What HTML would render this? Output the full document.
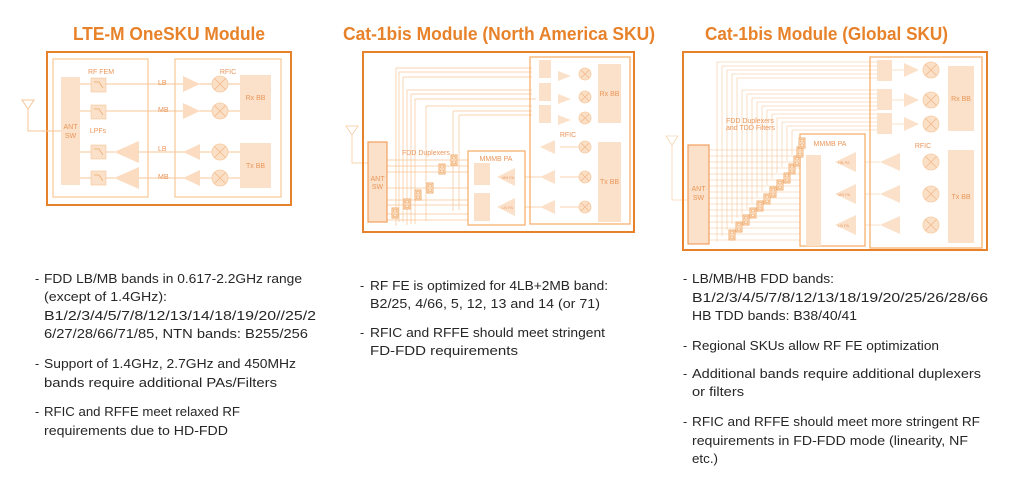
<!DOCTYPE html>
<html><head><meta charset="utf-8"><style>
html,body{margin:0;padding:0;background:#fff;}
svg{display:block;}
.t{font-family:"Liberation Sans",sans-serif;font-weight:bold;fill:#e8822a;font-size:18px;}
.b{font-family:"Liberation Sans",sans-serif;fill:#262626;font-size:12.5px;}
.s{font-family:"Liberation Sans",sans-serif;fill:#e9965a;font-size:7px;}
.xs{font-family:"Liberation Sans",sans-serif;fill:#eda070;font-size:4px;}
</style></head><body>
<svg width="1024" height="482" viewBox="0 0 1024 482" xmlns="http://www.w3.org/2000/svg">
<defs>
<g id="mix"><circle r="8" fill="#fbe0c8" stroke="#f6caa0" stroke-width="0.8"/><path d="M-5.5,-5.5L5.5,5.5M5.5,-5.5L-5.5,5.5" stroke="#f3b98a" stroke-width="0.8"/></g>
<g id="mixs"><circle r="6" fill="#fbe0c8" stroke="#f6caa0" stroke-width="0.8"/><path d="M-4,-4L4,4M4,-4L-4,4" stroke="#f3b98a" stroke-width="0.8"/></g>
<g id="dup"><rect x="0" y="0" width="6" height="10" fill="#fde9d6" stroke="#f0a868" stroke-width="0.9"/><rect x="1.5" y="1.5" width="3" height="2.5" fill="none" stroke="#f0a868" stroke-width="0.6"/><rect x="1.5" y="6" width="3" height="2.5" fill="none" stroke="#f0a868" stroke-width="0.6"/></g>
</defs>

<text class="t" x="73" y="40" textLength="192" lengthAdjust="spacingAndGlyphs">LTE-M OneSKU Module</text>
<text class="t" x="343" y="40" textLength="312" lengthAdjust="spacingAndGlyphs">Cat-1bis Module (North America SKU)</text>
<text class="t" x="705" y="40" textLength="243" lengthAdjust="spacingAndGlyphs">Cat-1bis Module (Global SKU)</text>

<!-- Panel 1 -->
<g fill="none" stroke="#f6c597" stroke-width="1">
<rect x="47" y="52" width="244" height="153" stroke="#e8822a" stroke-width="2"/>
<rect x="53" y="59" width="95" height="138" stroke="#f8c896" stroke-width="1.2"/>
<rect x="175" y="59" width="106" height="138" stroke="#f8c896" stroke-width="1.2"/>
<path d="M22,100h12l-6,9z M28,109v22h33"/>
<path d="M80,84h160 M80,111h160 M80,152h160 M80,178h160"/>
</g>
<rect x="61" y="77" width="19" height="108" fill="#fbe1c9"/>
<text class="s" x="70.5" y="129" text-anchor="middle">ANT</text><text class="s" x="70.5" y="138" text-anchor="middle">SW</text>
<text class="s" x="101" y="74" text-anchor="middle" font-size="8">RF FEM</text>
<text class="s" x="228" y="74" text-anchor="middle" font-size="8">RFIC</text>
<text class="s" x="98" y="133" text-anchor="middle">LPFs</text>
<g fill="#fbe1c9" stroke="#f6c597" stroke-width="0.6">
<rect x="91" y="78" width="15" height="14"/><rect x="91" y="105" width="15" height="14"/><rect x="91" y="145" width="15" height="14"/><rect x="91" y="171" width="15" height="14"/>
</g>
<path d="M94,82h5l4,6M94,109h5l4,6M94,149h5l4,6M94,175h5l4,6" stroke="#f0a868" stroke-width="0.7" fill="none"/>
<g fill="#fbdcc0"><path d="M114,152l25,-11v22z M114,178l25,-11v22z"/>
<path d="M183,76l17,8l-17,8z M183,103l17,8l-17,8z M183,152l17,-8v16z M183,178l17,-8v16z"/></g>
<use href="#mix" x="220" y="84"/><use href="#mix" x="220" y="111"/><use href="#mix" x="220" y="152"/><use href="#mix" x="220" y="178"/>
<rect x="240" y="75" width="31" height="45" fill="#fbe1c9"/><rect x="240" y="143" width="31" height="45" fill="#fbe1c9"/>
<text class="s" x="255.5" y="100" text-anchor="middle">Rx BB</text><text class="s" x="255.5" y="168" text-anchor="middle">Tx BB</text>
<g class="s" font-size="6"><text x="158" y="85">LB</text><text x="158" y="112">MB</text><text x="158" y="151">LB</text><text x="158" y="179">MB</text></g>

<!-- Panel 2 -->
<g fill="none" stroke="#f6c597" stroke-width="0.7">
<path d="M346,126h12l-6,9z M352,135v28h16"/>
<path d="M396,68h136 M399,72h133 M403,77h129 M407,90h125 M411,94h121 M415,99h121 M426,106h106 M453,111h79 M459,115h73"/>
<path d="M396,68v158 M399,72v150 M403,77v145 M407,90v135 M411,94v130 M415,99v125 M426,106v115 M453,111v100 M459,115v95"/>
<path d="M387,160h81 M387,166h81 M387,172h81 M387,188h81 M387,200h81 M387,205h81 M387,214h81 M387,220h81"/>
<path d="M525,177h20 M525,207h20 M560,147h25 M560,177h25 M560,207h25"/>
</g>
<g fill="none">
<rect x="363" y="52" width="271" height="180" stroke="#e8822a" stroke-width="2"/>
<rect x="530" y="57" width="100" height="167" stroke="#f6b070" stroke-width="1.3"/>
<rect x="468" y="151" width="57" height="74" stroke="#f6b070" stroke-width="1.3"/>
<rect x="368" y="142" width="19" height="80" stroke="#f2a060" stroke-width="1.2" fill="#fbe1c9"/>
</g>
<text class="s" x="377.5" y="181" text-anchor="middle">ANT</text><text class="s" x="377.5" y="189" text-anchor="middle">SW</text>
<text class="s" x="402" y="155" font-size="5">FDD Duplexers</text>
<text class="s" x="496" y="161" text-anchor="middle" font-size="7">MMMB PA</text>
<text class="s" x="568" y="137" text-anchor="middle" font-size="7">RFIC</text>
<use href="#dup" x="392" y="208"/><use href="#dup" x="404" y="199"/><use href="#dup" x="415" y="190"/><use href="#dup" x="427" y="183"/><use href="#dup" x="439" y="164"/><use href="#dup" x="451" y="155"/>
<g fill="#fbe1c9"><rect x="474" y="163" width="16" height="22"/><rect x="474" y="193" width="16" height="28"/>
<rect x="539" y="60" width="12" height="18"/><rect x="539" y="83" width="12" height="18"/><rect x="539" y="105" width="12" height="18"/>
<rect x="598" y="64" width="23" height="59"/><rect x="598" y="142" width="23" height="80"/>
<path d="M497,177l18,-9v18z M497,207l18,-9v18z M558,71l13,5l-13,5z M558,94l13,5l-13,5z M558,115l13,5l-13,5z M540,147l15,-7v14z M540,177l15,-7v14z M540,207l15,-7v14z"/></g>
<use href="#mixs" x="585" y="74"/><use href="#mixs" x="585" y="97"/><use href="#mixs" x="585" y="118"/><use href="#mixs" x="585" y="147"/><use href="#mixs" x="585" y="177"/><use href="#mixs" x="585" y="207"/>
<text class="s" x="609.5" y="96" text-anchor="middle" font-size="5">Rx BB</text><text class="s" x="609.5" y="184" text-anchor="middle" font-size="5">Tx BB</text>
<g class="xs"><text x="502" y="179">MB PA</text><text x="502" y="209">LB PA</text></g>

<!-- Panel 3 -->
<g fill="none" stroke="#f6c597" stroke-width="0.6">
<path d="M666,136h12l-6,9z M672,145v55h16"/>
<path d="M717,62h160 M722,66h155 M727,70h150 M732,74h145 M737,78h140 M742,90h135 M747,94h130 M752,98h125 M757,102h120 M762,106h115 M767,110h110 M772,114h105 M777,118h100 M782,122h95 M787,126h90 M792,130h85"/>
<path d="M717,62v180 M722,66v170 M727,70v160 M732,74v150 M737,78v140 M742,90v125 M747,94v115 M752,98v105 M757,102v95 M762,106v85 M767,110v75 M772,114v65 M777,118v55 M782,122v45 M787,126v35 M792,130v25"/>
<path d="M709,150h91 M709,156h91 M709,162h91 M709,168h91 M709,174h91 M709,180h91 M709,186h91 M709,192h91 M709,198h91 M709,204h91 M709,210h91 M709,216h91 M709,222h91 M709,228h91 M709,234h91 M709,240h91"/>
<path d="M865,162h15 M865,194h15 M865,225h15 M892,70h12 M892,100h12 M892,124h12"/>
</g>
<g fill="none">
<rect x="683" y="52" width="304" height="198" stroke="#e8822a" stroke-width="2"/>
<rect x="870" y="57" width="112" height="191" stroke="#f6b070" stroke-width="1.3"/>
<rect x="800" y="134" width="65" height="112" stroke="#f6b070" stroke-width="1.3"/>
<rect x="688" y="145" width="21" height="99" stroke="#f2a060" stroke-width="1.2" fill="#fbe1c9"/>
</g>
<text class="s" x="698.5" y="191" text-anchor="middle">ANT</text><text class="s" x="698.5" y="200" text-anchor="middle">SW</text>
<text class="s" x="726" y="123" font-size="5.5">FDD Duplexers</text><text class="s" x="726" y="130" font-size="5.5">and TDD Filters</text>
<text class="s" x="830" y="146" text-anchor="middle" font-size="7.5">MMMB PA</text>
<text class="s" x="923" y="148" text-anchor="middle" font-size="7.5">RFIC</text>
<use href="#dup" x="729" y="230"/><use href="#dup" x="736" y="222"/><use href="#dup" x="743" y="215"/><use href="#dup" x="750" y="208"/><use href="#dup" x="757" y="201"/><use href="#dup" x="764" y="194"/><use href="#dup" x="770" y="187"/><use href="#dup" x="777" y="180"/><use href="#dup" x="784" y="173"/><use href="#dup" x="789" y="164"/><use href="#dup" x="794" y="156"/><use href="#dup" x="797" y="147"/><use href="#dup" x="799" y="138"/>
<g fill="#fbe1c9">
<rect x="806" y="155" width="15" height="32"/><rect x="806" y="186" width="15" height="33"/><rect x="806" y="218" width="15" height="28"/>
<rect x="877" y="60" width="15" height="21"/><rect x="877" y="89" width="15" height="21"/><rect x="877" y="113" width="15" height="21"/>
<rect x="948" y="66" width="26" height="65"/><rect x="948" y="150" width="26" height="93"/>
<path d="M835,162l21,-10v20z M835,194l21,-10v20z M835,225l21,-10v20z M904,63l15,7l-15,7z M904,93l15,7l-15,7z M904,117l15,7l-15,7z M880,162l20,-9v18z M880,194l20,-9v18z M880,225l20,-9v18z"/></g>
<use href="#mix" x="931" y="70"/><use href="#mix" x="931" y="100"/><use href="#mix" x="931" y="124"/><use href="#mix" x="931" y="162"/><use href="#mix" x="931" y="194"/><use href="#mix" x="931" y="225"/>
<text class="s" x="961" y="101" text-anchor="middle" font-size="6">Rx BB</text><text class="s" x="961" y="199" text-anchor="middle" font-size="6">Tx BB</text>
<g class="xs"><text x="838" y="164">HB PA</text><text x="838" y="196">MB PA</text><text x="838" y="227">LB PA</text></g>

<!-- Bullet text -->
<g class="b">
<text x="35" y="283">-</text><text x="44" y="283" textLength="258" lengthAdjust="spacingAndGlyphs">FDD LB/MB bands in 0.617-2.2GHz range</text>
<text x="44" y="301" textLength="123" lengthAdjust="spacingAndGlyphs">(except of 1.4GHz):</text>
<text x="44" y="320" textLength="272" lengthAdjust="spacingAndGlyphs">B1/2/3/4/5/7/8/12/13/14/18/19/20//25/2</text>
<text x="44" y="338" textLength="264" lengthAdjust="spacingAndGlyphs">6/27/28/66/71/85, NTN bands: B255/256</text>
<text x="35" y="368">-</text><text x="44" y="368" textLength="252" lengthAdjust="spacingAndGlyphs">Support of 1.4GHz, 2.7GHz and 450MHz</text>
<text x="44" y="387" textLength="233" lengthAdjust="spacingAndGlyphs">bands require additional PAs/Filters</text>
<text x="35" y="416">-</text><text x="44" y="416" textLength="196" lengthAdjust="spacingAndGlyphs">RFIC and RFFE meet relaxed RF</text>
<text x="44" y="435" textLength="184" lengthAdjust="spacingAndGlyphs">requirements due to HD-FDD</text>

<text x="360" y="290">-</text><text x="370" y="290" textLength="238" lengthAdjust="spacingAndGlyphs">RF FE is optimized for 4LB+2MB band:</text>
<text x="370" y="308" textLength="230" lengthAdjust="spacingAndGlyphs">B2/25, 4/66, 5, 12, 13 and 14 (or 71)</text>
<text x="360" y="337">-</text><text x="370" y="337" textLength="235" lengthAdjust="spacingAndGlyphs">RFIC and RFFE should meet stringent</text>
<text x="370" y="355" textLength="148" lengthAdjust="spacingAndGlyphs">FD-FDD requirements</text>

<text x="683" y="283">-</text><text x="692" y="283" textLength="142" lengthAdjust="spacingAndGlyphs">LB/MB/HB FDD bands:</text>
<text x="692" y="302" textLength="296" lengthAdjust="spacingAndGlyphs">B1/2/3/4/5/7/8/12/13/18/19/20/25/26/28/66</text>
<text x="692" y="320" textLength="165" lengthAdjust="spacingAndGlyphs">HB TDD bands: B38/40/41</text>
<text x="683" y="350">-</text><text x="692" y="350" textLength="247" lengthAdjust="spacingAndGlyphs">Regional SKUs allow RF FE optimization</text>
<text x="683" y="378">-</text><text x="692" y="378" textLength="289" lengthAdjust="spacingAndGlyphs">Additional bands require additional duplexers</text>
<text x="692" y="396" textLength="52" lengthAdjust="spacingAndGlyphs">or filters</text>
<text x="683" y="426">-</text><text x="692" y="426" textLength="288" lengthAdjust="spacingAndGlyphs">RFIC and RFFE should meet more stringent RF</text>
<text x="692" y="445" textLength="276" lengthAdjust="spacingAndGlyphs">requirements in FD-FDD mode (linearity, NF</text>
<text x="692" y="463" textLength="26" lengthAdjust="spacingAndGlyphs">etc.)</text>
</g>
</svg>
</body></html>
